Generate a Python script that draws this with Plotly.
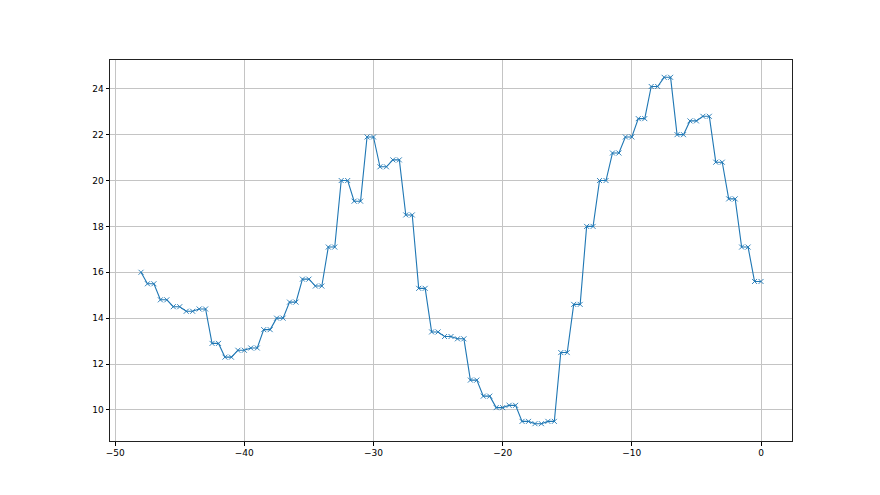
import plotly.graph_objects as go

# Hourly readings (x = hours relative to now); each hour after the first is drawn at two half-hour steps
x_vals = [-48.0,
          -47.5, -47.0, -46.5, -46.0, -45.5, -45.0, -44.5, -44.0, -43.5, -43.0,
          -42.5, -42.0, -41.5, -41.0, -40.5, -40.0, -39.5, -39.0, -38.5, -38.0,
          -37.5, -37.0, -36.5, -36.0, -35.5, -35.0, -34.5, -34.0, -33.5, -33.0,
          -32.5, -32.0, -31.5, -31.0, -30.5, -30.0, -29.5, -29.0, -28.5, -28.0,
          -27.5, -27.0, -26.5, -26.0, -25.5, -25.0, -24.5, -24.0, -23.5, -23.0,
          -22.5, -22.0, -21.5, -21.0, -20.5, -20.0, -19.5, -19.0, -18.5, -18.0,
          -17.5, -17.0, -16.5, -16.0, -15.5, -15.0, -14.5, -14.0, -13.5, -13.0,
          -12.5, -12.0, -11.5, -11.0, -10.5, -10.0, -9.5, -9.0, -8.5, -8.0,
          -7.5, -7.0, -6.5, -6.0, -5.5, -5.0, -4.5, -4.0, -3.5, -3.0,
          -2.5, -2.0, -1.5, -1.0, -0.5, 0.0]

y_vals = [16.0,
          15.5, 15.5, 14.8, 14.8, 14.5, 14.5, 14.3, 14.3, 14.4, 14.4,
          12.9, 12.9, 12.3, 12.3, 12.6, 12.6, 12.7, 12.7, 13.5, 13.5,
          14.0, 14.0, 14.7, 14.7, 15.7, 15.7, 15.4, 15.4, 17.1, 17.1,
          20.0, 20.0, 19.1, 19.1, 21.9, 21.9, 20.6, 20.6, 20.9, 20.9,
          18.5, 18.5, 15.3, 15.3, 13.4, 13.4, 13.2, 13.2, 13.1, 13.1,
          11.3, 11.3, 10.6, 10.6, 10.1, 10.1, 10.2, 10.2, 9.5, 9.5,
          9.4, 9.4, 9.5, 9.5, 12.5, 12.5, 14.6, 14.6, 18.0, 18.0,
          20.0, 20.0, 21.2, 21.2, 21.9, 21.9, 22.7, 22.7, 24.1, 24.1,
          24.5, 24.5, 22.0, 22.0, 22.6, 22.6, 22.8, 22.8, 20.8, 20.8,
          19.2, 19.2, 17.1, 17.1, 15.6, 15.6]

x_ticks = [-50, -40, -30, -20, -10, 0]
y_ticks = [10, 12, 14, 16, 18, 20, 22, 24]

fig = go.Figure()
fig.add_trace(go.Scatter(
    x=x_vals, y=y_vals, mode="lines+markers",
    line=dict(color="#1f77b4", width=1.1),
    marker=dict(symbol="x-thin", size=5, color="#1f77b4",
                line=dict(color="#1f77b4", width=0.9)),
    showlegend=False,
))

axis_common = dict(
    showgrid=True, gridcolor="#c4c4c4", gridwidth=0.8,
    showline=True, linecolor="#222222", linewidth=1, mirror=True,
    ticks="outside", ticklen=3.5, tickwidth=0.8, tickcolor="black",
    zeroline=False,
    tickfont=dict(family="DejaVu Sans", size=9, color="black"),
)

fig.update_layout(
    width=880, height=495,
    paper_bgcolor="white", plot_bgcolor="white",
    margin=dict(l=102, r=96, t=52, b=62),
    xaxis=dict(range=[-50.4, 2.4], tickvals=x_ticks, **axis_common),
    yaxis=dict(range=[8.645, 25.255], tickvals=y_ticks, **axis_common),
)

fig.write_html("out.html")
